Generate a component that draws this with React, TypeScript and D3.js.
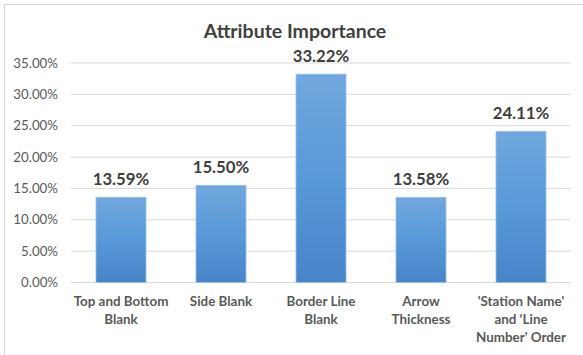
import React from "react";
import * as d3 from "d3";

const categories: string[][] = [
  ["Top and Bottom", "Blank"],
  ["Side Blank"],
  ["Border Line", "Blank"],
  ["Arrow", "Thickness"],
  ["'Station Name'", "and \u2018Line", "Number' Order"],
];
const values: number[] = [13.59, 15.5, 33.22, 13.58, 24.11];
const ticks: number[] = [0, 5, 10, 15, 20, 25, 30, 35];
const title = "Attribute Importance";

const W = 583;
const H = 355;
const left = 71;
const right = 571;
const top = 63;
const bottom = 282.5;
const FONT = "Lato, 'Open Sans', sans-serif";

export default function App() {
  const x = d3
    .scaleBand<number>()
    .domain(values.map((_, i) => i))
    .range([left, right])
    .paddingInner(0.5)
    .paddingOuter(0.25);
  const y = d3.scaleLinear().domain([0, 35]).range([bottom, top]);

  return (
    <svg
      width={W}
      height={H}
      style={{ position: "absolute", left: 0, top: 0, background: "#fff" }}
      fontFamily={FONT}
    >
      <defs>
        <linearGradient id="barGrad" x1="0" y1="0" x2="0" y2="1">
          <stop offset="0%" stopColor="#71a7de" />
          <stop offset="50%" stopColor="#5899d8" />
          <stop offset="100%" stopColor="#4784c8" />
        </linearGradient>
      </defs>
      <rect x={0} y={0} width={W} height={H} fill="#fff" />
      <rect x={4.5} y={4.5} width={W + 10} height={H + 10} fill="none" stroke="#d9d9d9" strokeWidth={1} />
      <text x={295} y={38} textAnchor="middle" fontSize={19.5} fontWeight="bold" fill="#404040">
        {title}
      </text>
      {ticks.map((t) => (
        <g key={t}>
          <line x1={left} x2={right} y1={y(t)} y2={y(t)} stroke="#d9d9d9" strokeWidth={1} />
          <text x={58} y={y(t) + 4.5} textAnchor="end" fontSize={13.3} fill="#595959">
            {t.toFixed(2) + "%"}
          </text>
        </g>
      ))}
      {values.map((v, i) => {
        const bx = x(i)!;
        const bw = x.bandwidth();
        return (
          <g key={i}>
            <rect
              x={bx}
              y={y(v)}
              width={bw}
              height={y(0) - y(v)}
              fill="url(#barGrad)"
              stroke="#9cc0e8"
              strokeWidth={0.8}
            />
            <text
              x={bx + bw / 2}
              y={y(v) - 12}
              textAnchor="middle"
              fontSize={16.8}
              fontWeight="bold"
              fill="#404040"
            >
              {v.toFixed(2) + "%"}
            </text>
            {categories[i].map((line, j) => (
              <text
                key={j}
                x={bx + bw / 2}
                y={306 + j * 18}
                textAnchor="middle"
                fontSize={13.4}
                fontWeight="bold"
                fill="#595959"
              >
                {line}
              </text>
            ))}
          </g>
        );
      })}
    </svg>
  );
}
